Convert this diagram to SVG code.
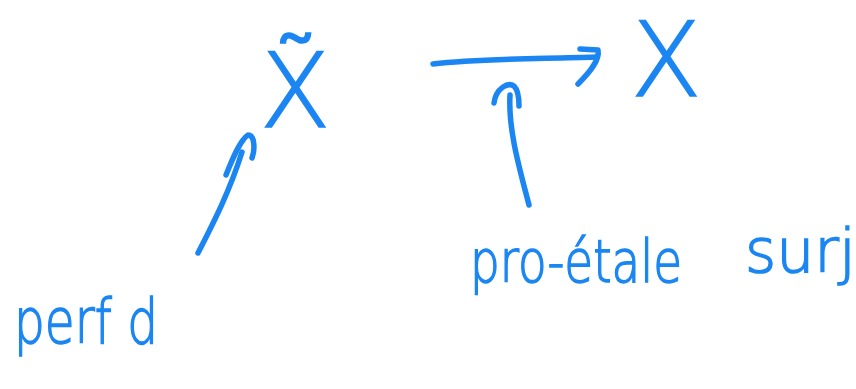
<svg xmlns="http://www.w3.org/2000/svg" width="856" height="389" viewBox="0 0 856 389">
<style>
.ink{fill:none;stroke:#1b86f2;stroke-width:5.5;stroke-linecap:round;stroke-linejoin:round}
.lbl{fill:#1b86f2;stroke:#1b86f2;stroke-width:1.5;font-family:"DejaVu Sans","Liberation Sans",sans-serif;font-weight:200}
</style>
<rect width="856" height="389" fill="#ffffff"/>
<g id="Xtilde"><text class="lbl" x="295" y="127" font-size="104" text-anchor="middle">X̃</text></g>
<g id="X"><text class="lbl" x="666" y="96" font-size="104" text-anchor="middle">X</text></g>
<g id="perfd"><text class="lbl" x="14" y="343" font-size="62" textLength="144" lengthAdjust="spacingAndGlyphs">perf d</text></g>
<g id="proetale"><text class="lbl" x="470" y="282" font-size="58" textLength="212" lengthAdjust="spacingAndGlyphs">pro-étale</text></g>
<g id="surj"><text class="lbl" x="745" y="272" font-size="60">surj</text></g>
<g id="connectors">
<path class="ink" d="M198,253 C215,220 230,190 242,152"/>
<path class="ink" d="M226,175 C232,160 240,140 248,135 C255,135 255,150 252,158"/>
<path class="ink" d="M433,64 C480,58 540,59 596,57"/>
<path class="ink" d="M580,49 L598,50 C600,60 590,72 578,84"/>
<path class="ink" d="M529,205 C520,170 508,130 510,95"/>
<path class="ink" d="M494,103 C496,88 508,82 514,86 C518,90 519,98 519,106"/>
</g>
</svg>
